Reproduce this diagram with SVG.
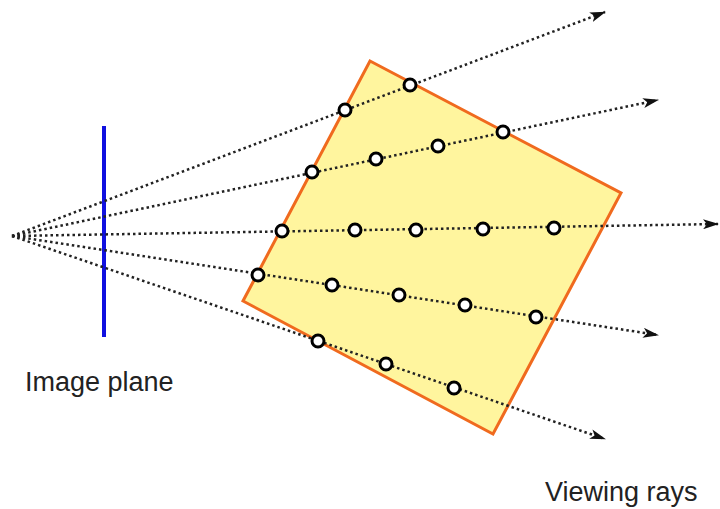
<svg xmlns="http://www.w3.org/2000/svg" width="720" height="509" viewBox="0 0 720 509">
<style>
.ray{stroke:#222;stroke-width:2.5;stroke-dasharray:2.5 3;fill:none;marker-end:url(#ah)}
.pt{fill:#fff;stroke:#000;stroke-width:3}
.lbl{font-family:"Liberation Sans",Arial,sans-serif;font-size:27px;fill:#222}
</style>
<defs>
<marker id="ah" viewBox="0 0 16 10" refX="15" refY="5" markerWidth="16" markerHeight="10" markerUnits="userSpaceOnUse" orient="auto">
<path d="M0,0 L16,5 L0,10 L4,5 Z" fill="#111"/>
</marker>
</defs>
<rect width="720" height="509" fill="#fff"/>
<g id="object">
<polygon points="370,61 621,193 493,434 243,301" fill="#FFF59E" stroke="#F06A1E" stroke-width="3"/>
</g>
<g id="image-plane">
<line x1="104" y1="126" x2="104" y2="337" stroke="#1010E0" stroke-width="4"/>
</g>
<g id="rays">
<line class="ray" x1="12" y1="236" x2="605" y2="12"/>
<line class="ray" x1="12" y1="236" x2="658" y2="100"/>
<line class="ray" x1="12" y1="236" x2="718" y2="224"/>
<line class="ray" x1="12" y1="236" x2="658" y2="335"/>
<line class="ray" x1="12" y1="236" x2="605" y2="439"/>
</g>
<g id="samples">
<circle class="pt" cx="345" cy="110" r="6"/>
<circle class="pt" cx="410" cy="85" r="6"/>
<circle class="pt" cx="312" cy="172" r="6"/>
<circle class="pt" cx="376" cy="159" r="6"/>
<circle class="pt" cx="438" cy="146" r="6"/>
<circle class="pt" cx="503" cy="132" r="6"/>
<circle class="pt" cx="282" cy="231" r="6"/>
<circle class="pt" cx="355" cy="230" r="6"/>
<circle class="pt" cx="416" cy="230" r="6"/>
<circle class="pt" cx="483" cy="229" r="6"/>
<circle class="pt" cx="554" cy="228" r="6"/>
<circle class="pt" cx="258" cy="275" r="6"/>
<circle class="pt" cx="332" cy="285" r="6"/>
<circle class="pt" cx="399" cy="295" r="6"/>
<circle class="pt" cx="465" cy="305" r="6"/>
<circle class="pt" cx="536" cy="317" r="6"/>
<circle class="pt" cx="318" cy="341" r="6"/>
<circle class="pt" cx="386" cy="364" r="6"/>
<circle class="pt" cx="454" cy="388" r="6"/>
</g>
<g id="labels">
<text class="lbl" x="25" y="391">Image plane</text>
<text class="lbl" x="545" y="501">Viewing rays</text>
</g>
</svg>
